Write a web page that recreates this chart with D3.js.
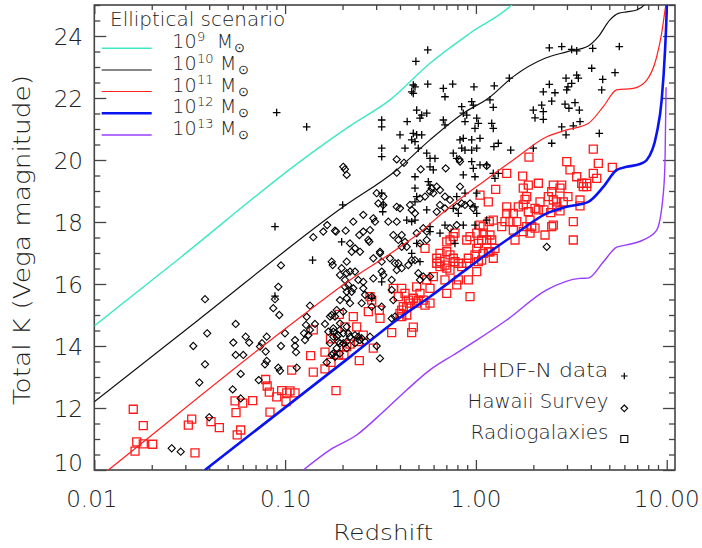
<!DOCTYPE html>
<html><head><meta charset="utf-8">
<script src="https://cdn.jsdelivr.net/npm/d3@7"></script>
<style>
html,body{margin:0;padding:0;background:#fff;}
svg{display:block;}
text{font-family:"DejaVu Sans","Liberation Sans",sans-serif;fill:#222;font-weight:300;}
</style></head><body>
<svg id="chart" width="702" height="548"></svg>
<script>
// ---------- DATA ----------
const xTickLabels = ["0.01","0.10","1.00","10.00"];
const xTickValues = [0.01,0.1,1,10];
const yTickValues = [10,12,14,16,18,20,22,24];
const seriesLabels = ["10","10","10","10","10"];
const massExponents = ["9","10","11","12","13"];
const pointLegend = ["HDF-N data","Hawaii Survey","Radiogalaxies"];

// model tracks [redshift, K]
const track9 = [[0.01,14.65],[0.0281,16.84],[0.1246,20.03],[0.219,21.10],[0.3546,21.94],[0.5746,23.12],[0.931,24.09],[1.54,25.0],[1.9,25.6]];
const track10 = [[0.01,12.20],[0.0351,14.84],[0.2018,18.49],[0.3846,19.68],[0.5746,20.65],[0.859,21.51],[1.161,21.99],[1.570,22.69],[2.30,23.28],[2.99,23.49],[3.88,23.68],[4.38,23.98],[5.04,24.52],[5.58,24.73],[6.17,24.78],[6.96,24.84],[7.69,25.03],[8.2,25.5]];
const track11 = [[0.01,9.64],[0.01184,10.0],[0.1150,14.84],[0.219,16.13],[0.327,16.83],[0.4895,17.58],[0.7313,18.49],[1.094,19.30],[1.570,20.0],[2.35,20.75],[2.99,20.97],[3.88,21.18],[4.65,21.72],[5.47,22.26],[6.68,22.31],[7.86,22.58],[8.86,23.33],[9.41,24.09],[9.80,24.84],[10.0,25.2]];
const track12 = [[0.0380,10.0],[0.219,13.65],[0.3846,14.84],[0.5746,15.59],[0.859,16.40],[1.186,17.04],[1.636,17.64],[2.35,18.28],[2.99,18.49],[3.88,18.65],[4.65,19.13],[5.47,19.68],[6.17,19.78],[7.24,19.87],[7.86,20.0],[8.86,20.86],[9.41,21.94],[9.80,23.55],[10.0,24.84],[10.05,25.3]];
const track13 = [[0.1246,10.0],[0.1719,10.65],[0.2372,11.13],[0.327,11.88],[0.4338,12.58],[0.5746,13.23],[0.7612,13.71],[1.01,14.19],[1.45,14.84],[2.35,15.81],[3.51,16.18],[3.88,16.19],[4.65,16.71],[5.47,17.19],[6.17,17.26],[7.54,17.42],[8.86,17.74],[9.60,18.93],[9.80,20.0],[9.92,22.35]];

// HDF-N (crosses) [redshift, K]
const hdfData = [[0.0903,21.53],[0.1297,21.07],[0.0885,17.85],[0.0885,15.61],[0.1393,16.77],[0.2003,18.55],[0.1979,17.36],
[0.4847,23.18],[0.5591,23.55],[0.4697,22.42],[0.4794,22.36],[0.4607,22.20],[0.4697,22.15],[0.5591,22.45],[0.6748,22.31],[0.6884,22.04],[0.7556,22.45],[0.9768,22.36],[0.9504,21.88],[0.9688,21.77],[0.8425,21.72],[0.8587,21.51],[0.8951,21.45],[0.8764,21.24],[1.0099,21.35],[1.0298,21.18],[0.9887,21.02],[0.4892,21.61],[0.5199,21.45],[0.5524,21.51],[0.5093,21.35],[0.3208,21.29],[0.3208,21.07],[0.4363,21.24],[0.6748,21.29],[0.6884,21.13],[0.4001,20.81],[0.4697,20.86],[0.4892,20.81],[0.5199,20.81],[0.4607,20.65],[0.4794,20.59],[0.4990,20.38],[0.4249,20.38],[0.3208,20.38],[0.3208,20.11],[0.5524,20.22],[0.5746,20.05],[0.6102,20.05],[0.8253,20.65],[0.8587,20.70],[0.8425,20.38],[0.8764,20.32],[0.9504,20.65],[1.0505,20.70],[1.0099,20.38],[0.9504,20.32],[0.7610,20.22],[0.7933,20.05],[0.5746,19.78],[0.5979,19.68],[0.9504,19.95],[0.9688,19.73],[1.0505,19.84],[1.139,19.84],[0.4794,19.46],[0.8587,19.52],[0.5630,19.30],[0.5746,19.19],[0.4794,19.09],[0.4892,18.82],[0.7933,18.82],[1.0099,18.93],[0.3208,18.93],[0.3270,18.55],[0.3247,18.33],[0.8764,18.93],[1.233,19.57],[1.311,19.57],[1.258,19.41],[0.9887,19.46],[0.4340,18.06],[0.4607,18.01],[0.4794,18.06],[0.5524,18.39],[0.5746,17.85],[0.5746,17.69],[0.6884,17.90],[0.7610,18.44],[0.8089,18.28],[0.8587,17.90],[0.9887,18.49],[1.0099,18.28],[0.9887,17.90],[0.4892,17.31],[0.5093,16.72],[0.4607,16.99],[0.6483,17.64],[0.7767,17.31],[0.3208,16.07],[0.2844,15.54],
[2.425,23.62],[2.816,23.66],[3.176,23.57],[3.375,23.52],[4.093,23.60],[5.642,23.66],[1.496,22.64],[1.248,22.39],[1.185,21.94],[1.233,21.70],[4.044,22.96],[5.357,22.82],[4.618,22.60],[4.563,22.26],[2.966,22.64],[3.375,22.74],[3.442,22.64],[3.176,22.47],[3.036,22.36],[2.992,22.26],[2.425,22.44],[2.255,22.20],[2.596,22.17],[2.496,21.90],[2.212,21.77],[2.255,21.56],[1.999,21.61],[2.040,21.36],[2.255,21.31],[2.930,21.80],[3.305,21.85],[3.073,21.67],[3.483,21.61],[2.816,21.07],[3.238,21.10],[3.512,21.24],[2.966,20.81],[4.432,20.86],[2.496,20.54],[1.999,20.38],[1.522,20.32],[1.210,21.18],[1.233,21.02],[1.311,20.54],[1.243,20.43],[1.139,18.06],[0.4794,18.65]];

// Hawaii survey (diamonds) [redshift, K]
const hawaiiData = [[0.02545,10.70],[0.02837,10.59],[0.03303,14.00],[0.03551,12.82],[0.03804,13.41],[0.03905,14.41],[0.0400,11.70],[0.05352,14.11],[0.05508,14.71],[0.05508,13.71],[0.06038,13.71],[0.05852,13.10],[0.05314,12.60],[0.05852,12.31],[0.06214,14.30],[0.06482,14.11],[0.07271,12.90],[0.07386,13.98],[0.07566,14.09],[0.07909,13.82],[0.08011,14.30],[0.08011,13.52],[0.07843,13.41],[0.09212,13.30],[0.0940,13.20],[0.09514,14.00],[0.09985,14.41],[0.1127,14.19],[0.1127,14.00],[0.1141,13.80],[0.1151,13.30],[0.1287,14.68],[0.1256,14.41],[0.1271,14.19],[0.1324,14.35],[0.1434,14.71],[0.1618,14.71],[0.1684,14.46],[0.1719,14.09],[0.1789,14.30],[0.1789,13.76],[0.1900,14.35],[0.2018,14.41],[0.2103,14.14],[0.1652,13.47],[0.1350,14.52],[0.1864,13.93],
[0.03804,15.51],[0.0885,15.51],[0.09212,15.91],[0.09514,16.60],[0.08671,15.22],[0.09321,15.00],[0.1405,17.51],[0.1350,15.30],[0.1298,14.94],[0.1585,17.69],[0.1661,17.90],[0.1826,17.72],[0.2077,17.72],[0.2018,19.78],[0.2059,19.70],[0.2103,19.52],[0.1755,16.72],[0.1776,16.61],[0.1979,16.51],[0.2103,16.72],[0.2103,16.35],[0.2059,15.91],[0.2103,15.75],[0.2103,15.54],[0.1755,15.00],[0.1826,14.95],[0.1719,14.95],
[0.3080,18.60],[0.3270,18.55],[0.4514,18.55],[0.4607,18.39],[0.4794,18.28],[0.2959,18.01],[0.2899,18.12],[0.2277,18.01],[0.2569,18.23],[0.3475,18.01],[0.3846,18.01],[0.1848,17.69],[0.2569,17.69],[0.2786,17.74],[0.2730,17.42],[0.2762,17.36],[0.2448,17.58],[0.2188,17.31],[0.2324,17.15],[0.2469,17.04],[0.2233,17.04],[0.3690,17.58],[0.3920,17.42],[0.4084,17.58],[0.4249,17.36],[0.4340,17.20],[0.4084,17.20],[0.3143,17.04],[0.3143,16.99],[0.2899,16.83],[0.3208,16.72],[0.3546,16.83],[0.3767,16.67],[0.3920,16.67],[0.4084,16.51],[0.3846,16.45],[0.2188,16.40],[0.2324,16.40],[0.1939,16.29],[0.2059,16.13],[0.2419,16.13],[0.2144,15.97],[0.2277,15.86],[0.2569,16.07],[0.2569,15.86],[0.2233,15.75],[0.3208,16.40],[0.3270,16.29],[0.2899,16.18],[0.3619,16.13],[0.3619,15.81],[0.2623,15.65],[0.2844,15.59],[0.2520,15.38],[0.2188,15.38],[0.1939,15.48],[0.1864,15.16],[0.2018,15.11],[0.1939,14.73],[0.2103,14.62],[0.1939,14.52],[0.2144,14.41],[0.1789,14.46],[0.1864,14.30],[0.1900,14.14],[0.2018,14.09],[0.2188,14.30],[0.2324,14.09],[0.2469,14.19],[0.2623,14.14],[0.2786,14.30],[0.1789,14.57],
[0.4990,16.35],[0.5093,16.13],[0.5299,16.24],[0.5746,16.24],[0.4423,16.61],[0.4607,16.77],[0.4794,16.77],[0.5093,17.31],[0.5524,17.42],[0.4892,17.64],[0.5299,17.80],[0.5524,17.69],[0.3690,15.48],[0.3767,14.95],[0.3619,14.89],[0.3208,15.27],[0.2844,15.27],[0.6232,18.33],[0.6483,18.55],[0.6884,18.44],[0.7314,17.80],[0.7933,17.90],[0.8425,18.60],[0.8764,18.55],[0.9688,18.44],[0.9311,18.60],
[0.3846,20.02],[0.4198,19.91],[0.3846,19.59],[0.5136,19.70],[0.6945,19.73],[0.8184,20.02],[0.8253,19.95],[1.139,19.81],[0.3020,18.93],[0.3270,18.82],[0.3846,18.49],[0.4001,18.44],[0.5093,18.76],[0.5410,18.82],[0.5746,18.98],[0.5865,19.09],[0.6483,19.03],[0.6884,18.82],[0.7933,18.49],[0.8253,19.14],[0.6232,19.14],[0.5979,18.93],[0.7314,18.71],
[0.3143,13.60],[0.3020,14.00],[0.1755,13.71],[0.1826,13.65],[0.1939,13.76],[0.2103,13.93],[0.1939,14.09],[0.2324,14.35],[0.2419,14.30],[0.2520,14.25],[2.350,17.20]];

// Radio galaxies (squares) [redshift, K]
const radioData = [[0.01600,11.96],[0.01669,10.91],[0.01635,10.61],[0.01806,11.43],[0.01806,10.84],[0.02023,10.83],[0.03110,11.45],[0.03240,11.64],[0.03371,10.55],[0.04090,11.56],[0.04521,11.37],[0.05464,12.23],[0.05530,11.85],[0.05995,12.16],[0.05609,11.13],[0.05852,11.29],[0.06763,12.24],[0.07909,12.92],[0.08054,12.71],[0.08264,12.51],[0.08333,11.87],[0.09038,12.36],[0.09595,12.56],[0.1011,12.21],[0.1020,12.49],[0.1127,12.49],[0.1083,13.22],[0.1361,13.69],[0.1405,13.16],[0.1405,14.52],[0.1618,13.80],[0.1618,13.26],[0.1740,13.47],[0.1848,12.56],[0.1729,14.23],[0.2059,14.62],[0.2103,13.98],[0.1900,13.71],[0.2034,13.71],[0.1923,15.02],[0.1061,12.55],[0.2188,14.06],[0.2448,13.53],[0.2899,13.93],[0.2419,14.14],[0.2373,14.62],[0.2569,14.35],[0.3619,14.43],[0.4607,14.43],[0.4697,14.61],[0.2277,14.95],[0.3143,14.89],[0.3117,15.16],[0.2730,15.11],
[0.5410,17.15],[0.7032,17.36],[0.7767,17.64],[0.7610,17.53],[0.8951,17.42],[0.9311,17.53],[1.0099,17.64],[1.0505,17.90],[1.0930,17.64],[1.0722,17.42],[1.0298,17.31],[1.1613,18.65],[0.6232,16.83],[0.6483,16.72],[0.6884,16.61],[0.7314,16.94],[0.7610,16.83],[0.7767,16.72],[0.8089,16.67],[0.8425,16.56],[0.7032,16.51],[0.7314,16.45],[0.9124,16.83],[0.9887,16.94],[1.0930,16.99],[1.1613,17.04],[1.0099,17.15],[0.8951,16.67],[1.0099,16.40],[0.5524,16.13],[0.5979,16.24],[0.6884,16.13],[0.8089,16.13],[0.7933,15.97],[0.9311,15.59],[0.3690,15.86],[0.4084,15.86],[0.5093,15.70],[0.5299,15.48],[0.4990,15.48],[0.4697,15.54],[0.4514,15.38],[0.4340,15.27],[0.4163,15.27],[0.4084,15.16],[0.4001,15.05],[0.4340,15.00],[0.4084,14.95],[0.5746,15.38],[0.5410,15.32],[0.4892,15.38],
[1.450,19.57],[1.758,19.48],[1.882,19.19],[2.124,19.25],[2.544,19.19],[2.816,19.19],[2.496,18.98],[2.396,18.82],[2.992,19.95],[4.380,19.89],[4.122,19.57],[4.297,19.41],[5.185,19.76],[3.112,19.68],[3.375,19.46],[3.585,19.25],[3.809,19.25],[3.654,19.14],[3.809,19.14],[2.759,19.09],[3.036,18.82],[1.771,19.09],[1.846,18.82],[1.808,18.73],[1.269,19.05],[1.0505,18.87],[1.450,18.49],[1.668,18.49],[1.771,18.55],[1.882,18.33],[2.040,18.44],[2.124,18.39],[2.167,18.65],[2.544,18.71],[2.652,18.65],[2.871,18.65],[3.512,18.52],[1.450,18.28],[1.570,18.28],[1.420,18.01],[1.509,18.01],[1.637,18.01],[1.233,18.06],[1.365,17.85],[1.570,17.74],[1.961,17.85],[2.040,17.80],[2.496,17.85],[2.302,17.58],[3.238,18.01],[3.238,17.42],[1.921,17.64],[1.603,17.42],[0.7314,17.42],[1.139,17.42],[1.210,17.42],[0.6483,16.99],[0.7032,17.04],[0.6232,16.67],[0.6483,16.56],[1.185,17.04],[1.258,17.15],[1.233,16.83],[1.0722,16.77],[1.0298,16.72],[0.9124,16.13],[0.4892,15.91],[0.5746,15.86],[0.4249,15.70],[0.3920,15.59],[0.4423,15.48],[0.2786,15.59],[0.2844,15.48],[0.7032,15.70],
[1.897,20.09],[4.122,20.35],[3.512,18.71],[2.273,18.39],[2.652,18.49],[2.759,18.36],[2.466,18.30],[1.921,18.06],[1.846,17.85],[1.771,17.69],[2.544,17.90],[1.185,17.58],[1.175,18.01],[1.0930,17.85]];

// ---------- CHART ----------
const svg = d3.select("#chart");
const L = 94.3, R = 675, T = 5, B = 470;
const x = d3.scaleLog().domain([0.01, 11.05]).range([L, R]);
const y = d3.scaleLinear().domain([10, 25]).range([B, T]);
const axisColor = "#444";

svg.append("defs").append("clipPath").attr("id","plotclip")
  .append("rect").attr("x",L).attr("y",T).attr("width",R-L).attr("height",B-T);

// minor ticks
const xMinor = [];
[0.01,0.1,1,10].forEach(d=>{for(let k=2;k<=9;k++){const v=d*k; if(v<=11.05) xMinor.push(v);}});
const yMinor = d3.range(10.5, 25.01, 0.5).filter(v=>Math.abs(v/2-Math.round(v/2))>1e-6);

function styleAxis(g){g.select(".domain").remove(); g.selectAll("line").attr("stroke",axisColor).attr("stroke-width",1.3); g.selectAll("text").remove();}
svg.append("g").attr("transform",`translate(0,${B})`).call(d3.axisBottom(x).tickValues(xTickValues).tickSize(-10)).call(styleAxis);
svg.append("g").attr("transform",`translate(0,${B})`).call(d3.axisBottom(x).tickValues(xMinor).tickSize(-5)).call(styleAxis);
svg.append("g").attr("transform",`translate(0,${T})`).call(d3.axisTop(x).tickValues(xTickValues).tickSize(-9)).call(styleAxis);
svg.append("g").attr("transform",`translate(0,${T})`).call(d3.axisTop(x).tickValues(xMinor).tickSize(-5)).call(styleAxis);
svg.append("g").attr("transform",`translate(${L},0)`).call(d3.axisLeft(y).tickValues(yTickValues).tickSize(-12)).call(styleAxis);
svg.append("g").attr("transform",`translate(${L},0)`).call(d3.axisLeft(y).tickValues(yMinor).tickSize(-6)).call(styleAxis);
svg.append("g").attr("transform",`translate(${R},0)`).call(d3.axisRight(y).tickValues(yTickValues).tickSize(-12)).call(styleAxis);
svg.append("g").attr("transform",`translate(${R},0)`).call(d3.axisRight(y).tickValues(yMinor).tickSize(-6)).call(styleAxis);

svg.append("rect").attr("x",L).attr("y",T).attr("width",R-L).attr("height",B-T)
  .attr("fill","none").attr("stroke",axisColor).attr("stroke-width",1.6);

// tick labels
svg.append("g").selectAll("text").data(xTickValues).join("text")
  .attr("x",(d,i)=>x(d)-(i===0?2.5:(i===1?-0.5:0))).attr("y",506.5).attr("text-anchor","middle")
  .attr("font-size",23).text((d,i)=>xTickLabels[i]);
svg.append("g").selectAll("text").data(yTickValues).join("text")
  .attr("x",83).attr("y",d=>(d===10? y(d)-8 : y(d))+8.5).attr("text-anchor","end")
  .attr("font-size",23).text(d=>d);

// axis titles
svg.append("text").attr("x",383.3).attr("y",540).attr("text-anchor","middle")
  .attr("font-size",22).attr("textLength",100).attr("lengthAdjust","spacingAndGlyphs").text("Redshift");
svg.append("text").attr("transform","translate(30,240) rotate(-90)").attr("text-anchor","middle")
  .attr("font-size",23).attr("textLength",330).attr("lengthAdjust","spacingAndGlyphs").text("Total K (Vega magnitude)");

// points
const pts = svg.append("g");
pts.selectAll("path.rad").data(radioData).join("path").attr("class","rad")
  .attr("d",d=>`M${x(d[0])-4},${y(d[1])-4}h8v8h-8z`).attr("fill","none").attr("stroke","#ff1a1a").attr("stroke-width",1.3);
pts.selectAll("path.haw").data(hawaiiData).join("path").attr("class","haw")
  .attr("d",d=>{const cx=x(d[0]),cy=y(d[1]);return `M${cx},${cy-3.6}L${cx+3.6},${cy}L${cx},${cy+3.6}L${cx-3.6},${cy}Z`;})
  .attr("fill","none").attr("stroke","#000").attr("stroke-width",1.1);
pts.selectAll("path.hdf").data(hdfData).join("path").attr("class","hdf")
  .attr("d",d=>{const cx=x(d[0]),cy=y(d[1]);return `M${cx-3.8},${cy}H${cx+3.8}M${cx},${cy-3.8}V${cy+3.8}`;})
  .attr("fill","none").attr("stroke","#000").attr("stroke-width",1.3);

// model tracks
const tracks = [
  {data:track9, color:"#3ee8c6", w:1.4},
  {data:track10, color:"#111", w:1.2},
  {data:track11, color:"#ff2020", w:1.2},
  {data:track12, color:"#0a14f0", w:2.6},
  {data:track13, color:"#9a3cff", w:1.4}
];
const line = d3.line().x(d=>x(d[0])).y(d=>y(d[1])).curve(d3.curveMonotoneX);
const tg = svg.append("g").attr("clip-path","url(#plotclip)");
tracks.forEach(t=>{
  tg.append("path").datum(t.data).attr("d",line).attr("fill","none")
    .attr("stroke",t.color).attr("stroke-width",t.w).attr("stroke-linejoin","round");
});

// top-left legend
svg.append("text").attr("x",110).attr("y",25.5).attr("font-size",20).text("Elliptical scenario");
const legY = [48.3,70,91.5,113.3,135];
tracks.forEach((t,i)=>{
  const ly = legY[i];
  svg.append("line").attr("x1",101.7).attr("x2",151.7).attr("y1",ly).attr("y2",ly)
    .attr("stroke",t.color).attr("stroke-width",t.w);
  const mx = i===0 ? 216.7 : 220;
  const tx = svg.append("text").attr("x",172.3).attr("y",ly).attr("font-size",19);
  tx.append("tspan").text(seriesLabels[i]);
  tx.append("tspan").attr("dx",0.5).attr("dy",-7.5).attr("font-size",13).text(massExponents[i]);
  tx.append("tspan").attr("x",mx).attr("dy",7.5).text("M");
  tx.append("tspan").attr("x",mx+17.5).attr("dy",4).attr("font-size",13).text("\u2299");
});

// bottom-right legend
const lgY = [377, 408.3, 439];
const lgW = [126.7, 140.7, 137.7];
pointLegend.forEach((s,i)=>{
  svg.append("text").attr("x",608.3).attr("y",lgY[i]).attr("text-anchor","end").attr("font-size",20)
    .attr("textLength",lgW[i]).attr("lengthAdjust","spacingAndGlyphs").text(s);
});
const mxL = 624.3;
svg.append("path").attr("d",`M${mxL-3.3},${lgY[0]-1}H${mxL+3.3}M${mxL},${lgY[0]-4.3}V${lgY[0]+2.3}`).attr("stroke","#000").attr("stroke-width",1.2);
svg.append("path").attr("d",`M${mxL},${lgY[1]-3.3}L${mxL+3.3},${lgY[1]}L${mxL},${lgY[1]+3.3}L${mxL-3.3},${lgY[1]}Z`).attr("fill","none").attr("stroke","#000").attr("stroke-width",1.1);
svg.append("path").attr("d",`M${mxL-3.5},${lgY[2]-3.5}h7v7h-7z`).attr("fill","none").attr("stroke","#000").attr("stroke-width",1.1);
</script>
</body></html>
